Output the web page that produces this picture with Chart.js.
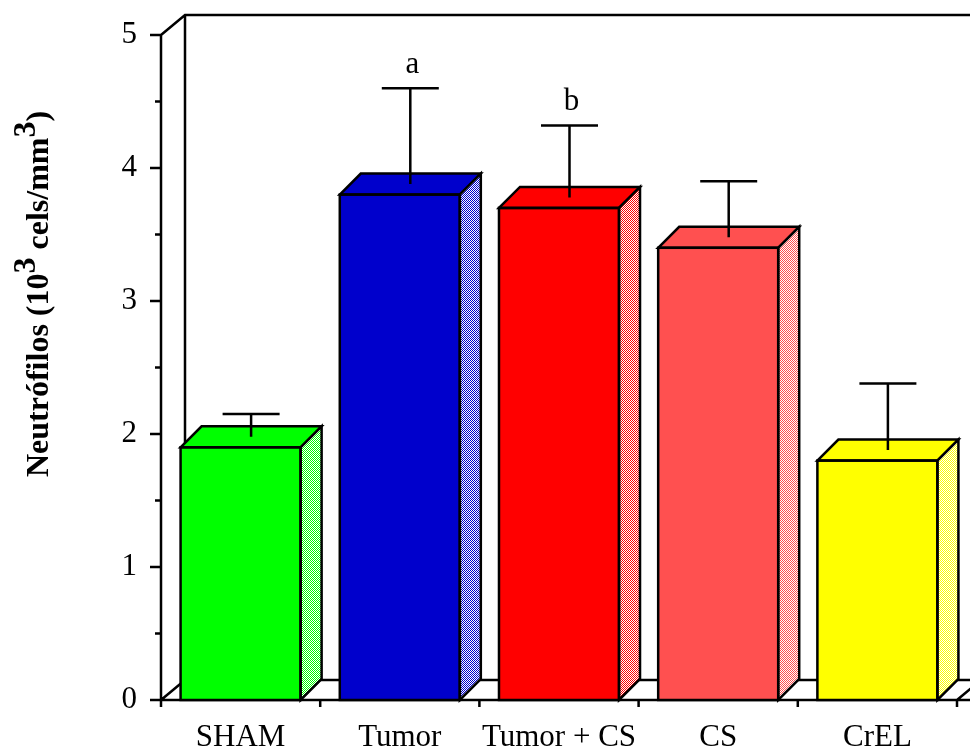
<!DOCTYPE html>
<html>
<head>
<meta charset="utf-8">
<script src="https://cdn.jsdelivr.net/npm/chart.js@4/dist/chart.umd.min.js"></script>
<style>
  body { margin: 0; background: #fff; }
  canvas { display: block; }
</style>
</head>
<body>
<canvas id="neutroChart" width="970" height="749"></canvas>
<script>
const categories = ['SHAM', 'Tumor', 'Tumor + CS', 'CS', 'CrEL'];
const means = [1.9, 3.8, 3.7, 3.4, 1.8];
const sem = [0.25, 0.8, 0.62, 0.5, 0.58];
const marks = ['', 'a', 'b', '', ''];
const barColors = ['#00ff00', '#0000cc', '#ff0000', '#ff5050', '#ffff00'];

const DEPTH = 21;        // bar depth (px)
const WALL_DX = 24;      // back wall offset
const WALL_DY = 20;
const LINE = 2.5;
const SERIF = '"Liberation Serif", "Times New Roman", serif';

// checker dither for the side faces
function dither(color) {
  const c = document.createElement('canvas');
  c.width = 2; c.height = 2;
  const g = c.getContext('2d');
  g.fillStyle = '#fff';
  g.fillRect(0, 0, 2, 2);
  g.fillStyle = color;
  g.fillRect(0, 0, 1, 1);
  g.fillRect(1, 1, 1, 1);
  return c;
}

const frame3d = {
  id: 'frame3d',
  beforeDatasetsDraw(chart) {
    const { ctx, chartArea: a, scales } = chart;
    ctx.save();
    ctx.strokeStyle = '#000';
    ctx.lineWidth = LINE;
    ctx.beginPath();
    // back wall + floor
    ctx.moveTo(a.left, a.top);
    ctx.lineTo(a.left + WALL_DX, a.top - WALL_DY);
    ctx.lineTo(chart.width + 10, a.top - WALL_DY);
    ctx.moveTo(a.left + WALL_DX, a.top - WALL_DY);
    ctx.lineTo(a.left + WALL_DX, a.bottom - WALL_DY);
    ctx.lineTo(chart.width + 10, a.bottom - WALL_DY);
    ctx.moveTo(a.left, a.bottom);
    ctx.lineTo(a.left + WALL_DX, a.bottom - WALL_DY);
    ctx.moveTo(a.right, a.bottom);
    ctx.lineTo(a.right + WALL_DX, a.bottom - WALL_DY);
    // y axis
    ctx.moveTo(a.left, a.top);
    ctx.lineTo(a.left, a.bottom + 7);
    for (let v = 0; v <= 5; v += 0.5) {
      const y = scales.y.getPixelForValue(v);
      const len = Number.isInteger(v) ? 11 : 6;
      ctx.moveTo(a.left - len, y);
      ctx.lineTo(a.left, y);
    }
    // x axis
    ctx.moveTo(a.left - 11, a.bottom);
    ctx.lineTo(chart.width + 10, a.bottom);
    const step = (a.right - a.left) / categories.length;
    for (let i = 0; i <= categories.length; i++) {
      const x = a.left + i * step;
      ctx.moveTo(x, a.bottom);
      ctx.lineTo(x, a.bottom + 7);
    }
    ctx.stroke();
    ctx.restore();
  },
  afterDatasetsDraw(chart) {
    const { ctx, scales } = chart;
    const bars = chart.getDatasetMeta(0).data;
    ctx.save();
    ctx.strokeStyle = '#000';
    ctx.lineWidth = LINE;
    ctx.lineJoin = 'miter';
    bars.forEach((bar, i) => {
      const l = bar.x - bar.width / 2;
      const r = bar.x + bar.width / 2;
      const top = bar.y;
      const base = bar.base;
      const d = DEPTH;
      // top face
      ctx.beginPath();
      ctx.moveTo(l, top);
      ctx.lineTo(l + d, top - d);
      ctx.lineTo(r + d, top - d);
      ctx.lineTo(r, top);
      ctx.closePath();
      ctx.fillStyle = barColors[i];
      ctx.fill();
      ctx.stroke();
      // side face
      ctx.beginPath();
      ctx.moveTo(r, top);
      ctx.lineTo(r + d, top - d);
      ctx.lineTo(r + d, base - d);
      ctx.lineTo(r, base);
      ctx.closePath();
      ctx.fillStyle = ctx.createPattern(dither(barColors[i]), 'repeat');
      ctx.fill();
      ctx.stroke();
      // front outline
      ctx.strokeRect(l, top, r - l, base - top);
      // error bar from the middle of the top face
      const ex = bar.x + d / 2;
      const ey = scales.y.getPixelForValue(means[i] + sem[i]);
      ctx.beginPath();
      ctx.moveTo(ex, top - d / 2);
      ctx.lineTo(ex, ey);
      ctx.moveTo(ex - 28.5, ey);
      ctx.lineTo(ex + 28.5, ey);
      ctx.stroke();
      if (marks[i]) {
        ctx.fillStyle = '#000';
        ctx.font = '31px ' + SERIF;
        ctx.textAlign = 'center';
        ctx.textBaseline = 'alphabetic';
        ctx.fillText(marks[i], ex + 2, ey - 15);
      }
    });
    ctx.restore();
  },
  afterDraw(chart) {
    // rotated y title with raised exponents
    const { ctx } = chart;
    const parts = [
      ['Neutrófilos (10', 0], ['3', 1], [' cels/mm', 0], ['3', 1], [')', 0]
    ];
    ctx.save();
    ctx.font = 'bold 32px ' + SERIF;
    ctx.fillStyle = '#000';
    ctx.textBaseline = 'alphabetic';
    ctx.textAlign = 'left';
    ctx.translate(48, 477);
    ctx.rotate(-Math.PI / 2);
    let x = 0;
    parts.forEach(([t, sup]) => {
      ctx.fillText(t, x, sup ? -13 : 0);
      x += ctx.measureText(t).width;
    });
    ctx.restore();
  }
};

new Chart(document.getElementById('neutroChart'), {
  type: 'bar',
  data: {
    labels: categories,
    datasets: [{
      data: means,
      backgroundColor: barColors,
      borderWidth: 0,
      barPercentage: 1,
      categoryPercentage: 0.754
    }]
  },
  options: {
    responsive: false,
    devicePixelRatio: 1,
    animation: false,
    layout: { padding: { top: 35, right: 13, left: 0, bottom: 0 } },
    plugins: {
      legend: { display: false },
      tooltip: { enabled: false }
    },
    scales: {
      x: {
        grid: { display: false, drawTicks: false },
        border: { display: false },
        ticks: { color: '#000', font: { family: SERIF, size: 31 }, padding: 19, maxRotation: 0 },
        afterFit(scale) {
          scale.height = 49;
          scale.paddingLeft = 0;
          scale.paddingRight = 0;
        }
      },
      y: {
        min: 0,
        max: 5,
        grid: { display: false, drawTicks: false },
        border: { display: false },
        ticks: { stepSize: 1, color: '#000', font: { family: SERIF, size: 31 }, padding: 24 },
        afterFit(scale) {
          scale.width = 161;
          scale.paddingTop = 0;
          scale.paddingBottom = 0;
        }
      }
    }
  },
  plugins: [frame3d]
});
</script>
</body>
</html>
